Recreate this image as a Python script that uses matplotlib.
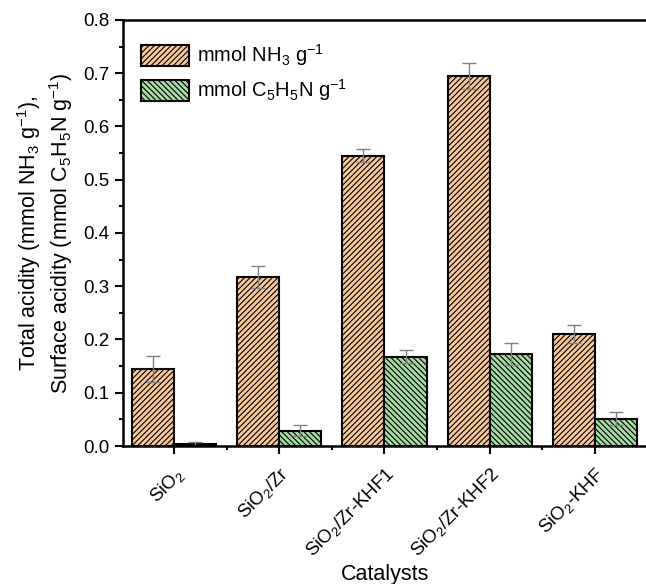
import numpy as np
import matplotlib
matplotlib.use("Agg")
import matplotlib.pyplot as plt
from matplotlib.ticker import MultipleLocator

plt.rcParams['font.family'] = ['Liberation Sans', 'DejaVu Sans']
plt.rcParams['mathtext.fontset'] = 'custom'
plt.rcParams['mathtext.rm'] = 'Liberation Sans'
plt.rcParams['mathtext.it'] = 'Liberation Sans:italic'
plt.rcParams['hatch.linewidth'] = 0.8
plt.rcParams['hatch.color'] = '#555555'

# data
catalysts = ["SiO$_2$", "SiO$_2$/Zr", "SiO$_2$/Zr-KHF1", "SiO$_2$/Zr-KHF2", "SiO$_2$-KHF"]
nh3 = [0.145, 0.317, 0.545, 0.695, 0.211]
nh3_err = [0.024, 0.021, 0.012, 0.024, 0.017]
pyr = [0.004, 0.029, 0.168, 0.173, 0.051]
pyr_err = [0.004, 0.010, 0.013, 0.020, 0.012]

fig = plt.figure(figsize=(6.46, 5.84), dpi=100)
ax = fig.add_axes([0.190, 0.2363, 0.812, 0.7295])

xpos = np.arange(1, len(catalysts) + 1)
w = 0.4
ekw = dict(ecolor='#808080', elinewidth=1.0, capsize=5, capthick=1.0)
ax.bar(xpos - w/2, nh3, w, yerr=nh3_err, color='#F8C89A', edgecolor='black',
       linewidth=1.5, hatch='//////', label='mmol NH$_3$ g$^{-1}$', error_kw=ekw)
ax.bar(xpos + w/2, pyr, w, yerr=pyr_err, color='#A6DBA4', edgecolor='black',
       linewidth=1.5, hatch='\\\\\\\\\\\\', label='mmol C$_5$H$_5$N g$^{-1}$', error_kw=ekw)

ax.set_xlim(0.51, 5.5)
ax.set_ylim(0, 0.8)
ax.yaxis.set_minor_locator(MultipleLocator(0.05))
ax.set_yticks(np.arange(0, 0.81, 0.1))
ax.set_yticklabels([f"{v:.1f}" for v in np.arange(0, 0.81, 0.1)])
ax.set_xticks(xpos)
ax.set_xticks(xpos[:-1] + 0.5, minor=True)
ax.set_xticklabels(catalysts, rotation=45, ha='right', rotation_mode='anchor')
ax.tick_params(axis='both', which='major', direction='out', length=6, width=1.5, labelsize=13.5)
ax.tick_params(axis='both', which='minor', direction='out', length=3, width=1.5)
ax.tick_params(axis='x', pad=7)

for s in ['left', 'bottom', 'top']:
    ax.spines[s].set_linewidth(1.8)
ax.spines['right'].set_visible(False)

ax.set_ylabel("Total acidity (mmol NH$_3$ g$^{-1}$),\nSurface acidity (mmol C$_5$H$_5$N g$^{-1}$)",
              fontsize=15.5, labelpad=6)
ax.set_xlabel("Catalysts", fontsize=15.5, labelpad=2)

ax.legend(loc='upper left', frameon=False, fontsize=14.5, handlelength=2.4,
          handleheight=1.2, bbox_to_anchor=(0.0, 0.99), labelspacing=0.45, handletextpad=0.4)

fig.savefig("out.png", dpi=100)
